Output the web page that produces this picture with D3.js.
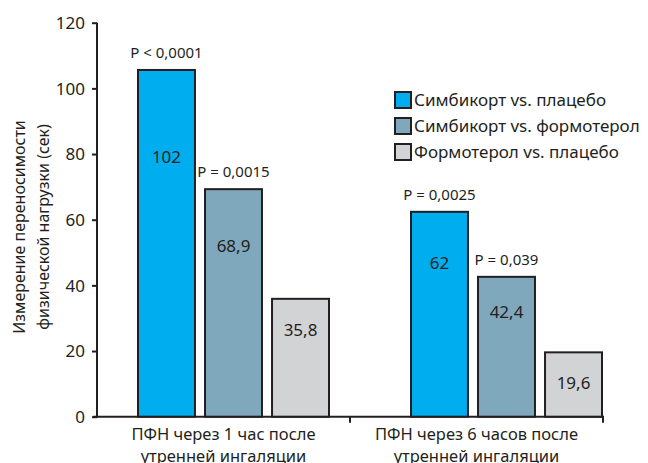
<!DOCTYPE html>
<html lang="ru">
<head>
  <meta charset="UTF-8">
  <title>Переносимость физической нагрузки</title>
  <style>
    body { margin: 0; background: #fff; }
    svg { display: block; font-family: "Noto Sans", sans-serif; }
  </style>
  <script src="https://d3js.org/d3.v7.min.js"></script>
</head>
<body>
  <svg id="chart" width="648" height="463"></svg>
  <script>
    // data
    const groups = ['ПФН через 1 час после\nутренней ингаляции', 'ПФН через 6 часов после\nутренней ингаляции'];
    const series = ['Симбикорт vs. плацебо', 'Симбикорт vs. формотерол', 'Формотерол vs. плацебо'];
    const barHeights = [[105.6, 69.3, 35.9], [62.4, 42.6, 19.6]];   // as drawn
    const barLabels = [['102', '68,9', '35,8'], ['62', '42,4', '19,6']];
    const pLabels = [['P < 0,0001', 'P = 0,0015', null], ['P = 0,0025', 'P = 0,039', null]];
    const yTicks = [0, 20, 40, 60, 80, 100, 120];
    const colors = ['#00aeef', '#7fa8bc', '#d2d3d5'];

    const svg = d3.select('#chart');
    const ink = '#231f20';
    const mLeft = 97, mRight = 603, mTop = 22.7, mBottom = 416.7;

    const y = d3.scaleLinear().domain([0, 120]).range([mBottom, mTop]);
    // bars sit in wider slots than the drawn axis segments
    const x0 = d3.scaleBand().domain(d3.range(groups.length)).range([mLeft, 643]);
    const xa = d3.scaleBand().domain(d3.range(groups.length)).range([mLeft, mRight]);
    const x1 = d3.scaleBand().domain(d3.range(series.length))
      .range([0, 191]).paddingInner(0.15);
    const groupOffset = (x0.bandwidth() - 191) / 2;

    // y axis
    const yAxis = svg.append('g')
      .attr('transform', `translate(${mLeft},0)`)
      .call(d3.axisLeft(y).tickValues(yTicks).tickSize(5).tickPadding(7));
    yAxis.select('.domain').attr('stroke', ink).attr('stroke-width', 2)
      .attr('d', `M0,${mTop}V${mBottom + 1}`);
    yAxis.selectAll('.tick line').attr('stroke', ink).attr('stroke-width', 2);
    yAxis.selectAll('.tick text').attr('fill', ink).style('font-size', '17px')
      .style('font-family', '"Noto Sans", sans-serif').attr('dy', '0.35em');

    // x axis
    svg.append('line')
      .attr('x1', mLeft - 4).attr('x2', mRight + 1)
      .attr('y1', mBottom).attr('y2', mBottom)
      .attr('stroke', ink).attr('stroke-width', 2);
    svg.selectAll('.xtick').data([xa(1), mRight]).enter().append('line')
      .attr('x1', d => d).attr('x2', d => d)
      .attr('y1', mBottom).attr('y2', mBottom + 6)
      .attr('stroke', ink).attr('stroke-width', 2);

    // group labels
    groups.forEach((g, i) => {
      const cx = xa(i) + xa.bandwidth() / 2;
      const t = svg.append('text')
        .attr('y', 440)
        .attr('text-anchor', 'middle')
        .attr('fill', ink)
        .style('font-size', '16.5px');
      g.split('\n').forEach((line, k) => {
        t.append('tspan').attr('x', cx).attr('dy', k ? 22 : 0).text(line);
      });
    });

    // bars
    barHeights.forEach((vals, gi) => {
      const g = svg.append('g').attr('transform', `translate(${x0(gi) + groupOffset},0)`);
      vals.forEach((v, si) => {
        const bx = x1(si), bw = x1.bandwidth();
        g.append('rect')
          .attr('x', bx).attr('y', y(v))
          .attr('width', bw).attr('height', y(0) - y(v))
          .attr('fill', colors[si]).attr('stroke', ink).attr('stroke-width', 2);
        const ly = Math.max(y(v * 0.75), y(v) + 31);
        g.append('text')
          .attr('x', bx + bw / 2).attr('y', ly)
          .attr('dy', '0.35em').attr('text-anchor', 'middle')
          .attr('fill', ink).style('font-size', '17px')
          .text(barLabels[gi][si]);
        if (pLabels[gi][si]) {
          g.append('text')
            .attr('x', bx + bw / 2).attr('y', y(v) - 12)
            .attr('text-anchor', 'middle')
            .attr('fill', ink).style('font-size', '15px')
            .text(pLabels[gi][si]);
        }
      });
    });

    // y title
    const yt = svg.append('text')
      .attr('transform', 'translate(0,227) rotate(-90)')
      .attr('text-anchor', 'middle')
      .attr('fill', ink)
      .style('font-size', '16px');
    yt.append('tspan').attr('x', 0).attr('y', 25).text('Измерение переносимости');
    yt.append('tspan').attr('x', 0).attr('y', 49).text('физической нагрузки (сек)');

    // legend
    const legend = svg.append('g').attr('transform', 'translate(395,92)');
    series.forEach((s, i) => {
      const row = legend.append('g').attr('transform', `translate(0,${i * 26})`);
      row.append('rect').attr('width', 16).attr('height', 16)
        .attr('fill', colors[i]).attr('stroke', ink).attr('stroke-width', 2);
      row.append('text').attr('x', 19).attr('y', 8).attr('dy', '0.35em')
        .attr('fill', ink).style('font-size', '17px').text(s);
    });
  </script>
</body>
</html>
